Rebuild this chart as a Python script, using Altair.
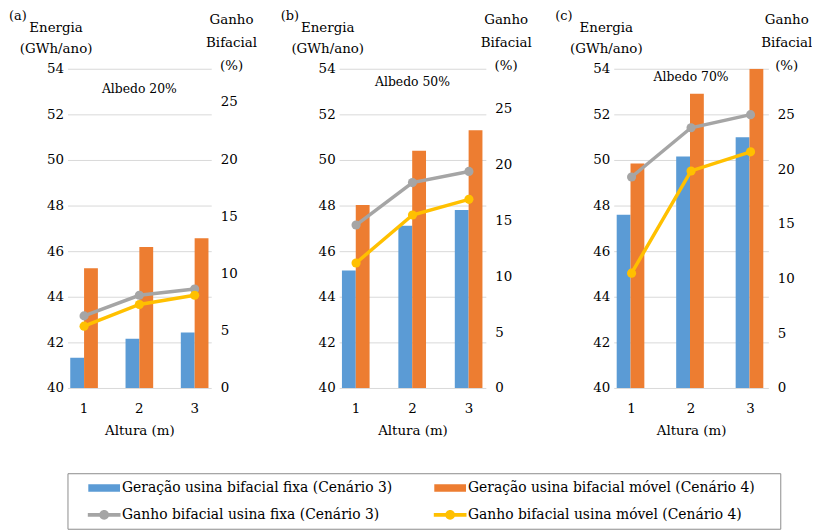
import altair as alt
import pandas as pd

FONT = "DejaVu Serif"

alturas = ["1", "2", "3"]
serie_bar = ["Geração usina bifacial fixa (Cenário 3)", "Geração usina bifacial móvel (Cenário 4)"]
serie_lin = ["Ganho bifacial usina fixa (Cenário 3)", "Ganho bifacial usina móvel (Cenário 4)"]
series_all = serie_bar + serie_lin
cores = ["#5B9BD5", "#ED7D31", "#A5A5A5", "#FFC000"]

# (a) Albedo 20%
a_fixa = [41.32, 42.16, 42.43]
a_movel = [45.25, 46.18, 46.57]
a_gfixa = [6.3, 8.1, 8.65]
a_gmovel = [5.4, 7.3, 8.1]
# (b) Albedo 50%
b_fixa = [45.15, 47.12, 47.8]
b_movel = [48.03, 50.4, 51.3]
b_gfixa = [14.6, 18.4, 19.4]
b_gmovel = [11.2, 15.5, 16.9]
# (c) Albedo 70%
c_fixa = [47.6, 50.15, 51.0]
c_movel = [49.85, 52.9, 54.0]
c_gfixa = [19.3, 23.8, 25.0]
c_gmovel = [10.5, 19.85, 21.6]

left_ticks = [40, 42, 44, 46, 48, 50, 52, 54]
right_ticks = [0, 5, 10, 15, 20, 25]

BAR_PATH = "M-1.6,-0.38H1.6V0.38H-1.6Z"
LINE_PATH = ("M-1.65,-0.19H1.65V0.19H-1.65Z "
             "M0.5,0A0.5,0.5 0 1,1 -0.5,0A0.5,0.5 0 1,1 0.5,0Z")
shapes = [BAR_PATH, BAR_PATH, LINE_PATH, LINE_PATH]

H = 322

leg = alt.Legend(
    title=None, orient="none", legendX=27, legendY=413, columns=2, direction="horizontal",
    symbolSize=400, symbolOpacity=1, symbolStrokeWidth=0,
    labelFont=FONT, labelFontSize=14, labelColor="#000", labelLimit=600,
    labelOffset=8, columnPadding=41, rowPadding=10, padding=0,
)


def panel(tag, albedo, fixa, movel, gfixa, gmovel, ymax2, width, ltx, rtx, alb_y):
    bars_df = pd.DataFrame({
        "Altura": alturas * 2,
        "Serie": [serie_bar[0]] * 3 + [serie_bar[1]] * 3,
        "Energia": fixa + movel,
    })
    lin_df = pd.DataFrame({
        "Altura": alturas * 2,
        "Serie": [serie_lin[0]] * 3 + [serie_lin[1]] * 3,
        "Ganho": gfixa + gmovel,
    })
    x = alt.X("Altura:N", sort=alturas,
              scale=alt.Scale(paddingInner=0.5, paddingOuter=0.05),
              axis=alt.Axis(title="Altura (m)", labelAngle=0, domain=False, ticks=False,
                            labelPadding=14, titlePadding=8, grid=False))
    color = alt.Color("Serie:N", scale=alt.Scale(domain=series_all, range=cores), legend=leg)
    bars = alt.Chart(bars_df).mark_bar(clip=True).encode(
        x=x,
        xOffset=alt.XOffset("Serie:N", sort=serie_bar),
        y=alt.Y("Energia:Q", scale=alt.Scale(domain=[40, 54], nice=False, zero=False),
                axis=alt.Axis(values=left_ticks, title=["Energia", "(GWh/ano)"], titleAngle=0,
                              titleAlign="center", titleBaseline="top", titleX=ltx, titleY=-49,
                              titleLineHeight=22, grid=True, gridColor="#D9D9D9", domain=False,
                              ticks=False, labelPadding=4)),
        color=color,
    )
    base = alt.Chart(lin_df).encode(
        x=x,
        y=alt.Y("Ganho:Q", scale=alt.Scale(domain=[0, ymax2], nice=False, zero=True),
                axis=alt.Axis(orient="right", values=right_ticks, grid=False,
                              title=["Ganho", "Bifacial", "(%)"], titleAngle=0,
                              titleAlign="center", titleBaseline="top", titleX=rtx, titleY=-57,
                              titleLineHeight=23.5, domain=False, ticks=False, labelPadding=9)),
        color=color,
    )
    line = base.mark_line(strokeWidth=3.5)
    pts = base.mark_circle(size=85, opacity=1)
    ghost = base.mark_point(filled=True, opacity=0).encode(
        shape=alt.Shape("Serie:N", scale=alt.Scale(domain=series_all, range=shapes), legend=leg)
    )
    right = alt.layer(line, pts, ghost)
    tag_txt = alt.Chart(pd.DataFrame({"t": [tag]})).mark_text(
        align="left", baseline="middle", font=FONT, fontSize=13, color="#000"
    ).encode(text="t:N", x=alt.value(-59), y=alt.value(-53))
    alb_txt = alt.Chart(pd.DataFrame({"t": [albedo]})).mark_text(
        align="center", baseline="middle", font=FONT, fontSize=12.5, color="#000"
    ).encode(text="t:N", x=alt.value(width / 2), y=alt.value(alb_y))
    return alt.layer(bars, right, tag_txt, alb_txt).resolve_scale(y="independent").properties(
        width=width, height=H)


pa = panel("(a)", "Albedo 20%", a_fixa, a_movel, a_gfixa, a_gmovel, 27.9, 145, -12, 20, 20)
pb = panel("(b)", "Albedo 50%", b_fixa, b_movel, b_gfixa, b_gmovel, 28.6, 148, -12, 20, 13)
pc = panel("(c)", "Albedo 70%", c_fixa, c_movel, c_gfixa, c_gmovel, 29.2, 156, -8, 18, 8)

box = alt.Chart(pd.DataFrame({"v": [0]})).mark_point(opacity=0).encode(
    x=alt.X("v:Q", axis=None), y=alt.Y("v:Q", axis=None)
).properties(width=719, height=56, view=alt.ViewBackground(stroke="#8C8C8C", strokeWidth=1))

top = alt.hconcat(pa, pb, pc, spacing=129, bounds="flush")
chart = alt.vconcat(top, box, spacing=36).properties(
    padding={"left": 1, "top": 0, "right": 0, "bottom": 0}
).configure(font=FONT).configure_view(stroke=None).configure_axis(
    labelFont=FONT, titleFont=FONT, labelFontSize=13.5, titleFontSize=13.5,
    labelColor="#000", titleColor="#000", titleFontWeight="normal"
)

chart.save("out.html", embed_options={"renderer": "svg", "actions": False})
